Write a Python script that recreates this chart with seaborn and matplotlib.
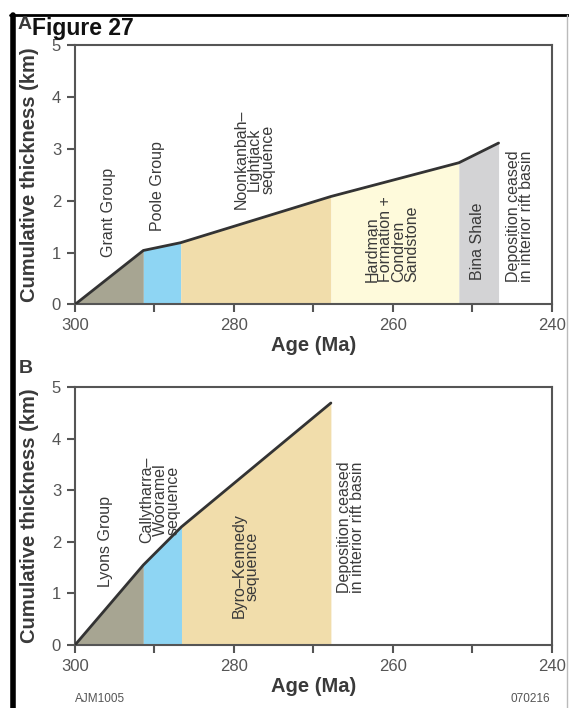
import matplotlib.pyplot as plt
import matplotlib.lines as mlines
import pandas as pd
import seaborn as sns

# panel A - Canning basin
ages_a = [300, 291.4, 286.7, 267.8, 251.7, 246.7]
thick_a = [0, 1.04, 1.19, 2.08, 2.73, 3.11]
colors_a = ['#a7a592', '#8ed5f3', '#f1ddab', '#fefadb', '#d3d3d5']

# panel B - Carnarvon basin
ages_b = [300, 291.4, 286.6, 267.8]
thick_b = [0, 1.55, 2.29, 4.69]
colors_b = ['#a7a592', '#8ed5f3', '#f1ddab']

labels_a = ['Grant Group', 'Poole Group', 'Noonkanbah\u2013\nLightjack\nsequence',
            'Hardman\nFormation +\nCondren\nSandstone', 'Bina Shale',
            'Deposition ceased\nin interior rift basin']
labels_b = ['Lyons Group', 'Callytharra\u2013\nWooramel\nsequence',
            'Byro\u2013Kennedy\nsequence', 'Deposition ceased\nin interior rift basin']

sns.set_style('white')
plt.rcParams['font.family'] = ['Liberation Sans', 'DejaVu Sans']

fig = plt.figure(figsize=(5.69, 7.08), dpi=100)
ax_a = fig.add_axes([0.1318, 0.570, 0.838, 0.3665])
ax_b = fig.add_axes([0.1318, 0.089, 0.838, 0.3644])

txt = '#3a3a3a'


def draw_panel(ax, ages, thick, colors):
    for i, c in enumerate(colors):
        ax.fill_between(ages[i:i + 2], 0, thick[i:i + 2], color=c, lw=0, zorder=1)
    df = pd.DataFrame({'age': ages, 'thick': thick})
    sns.lineplot(data=df, x='age', y='thick', ax=ax, color='#333333', lw=2,
                 sort=False, zorder=3)
    ax.set_xlim(300, 240)
    ax.set_ylim(0, 5)
    ax.set_xticks(range(300, 239, -10))
    ax.set_xticklabels(['300', '', '280', '', '260', '', '240'])
    ax.set_yticks(range(0, 6))
    ax.tick_params(direction='out', length=6, width=1.5, color='#555555',
                   labelsize=12, labelcolor='#555555', pad=4,
                   bottom=True, left=True)
    for s in ax.spines.values():
        s.set_color('#555555')
        s.set_linewidth(1.5)
    ax.set_xlabel('Age (Ma)', fontsize=14.5, fontweight='bold', color=txt, labelpad=2)
    ax.set_ylabel('Cumulative thickness (km)', fontsize=14.5, fontweight='bold',
                  color=txt, labelpad=9)


draw_panel(ax_a, ages_a, thick_a, colors_a)
draw_panel(ax_b, ages_b, thick_b, colors_b)

kw = dict(rotation=90, fontsize=11.5, color=txt, linespacing=0.85, zorder=4)
ax_a.text(295.8, 1.78, labels_a[0], ha='center', va='center', **kw)
ax_a.text(289.6, 2.28, labels_a[1], ha='center', va='center', **kw)
ax_a.text(277.4, 2.79, labels_a[2], ha='center', va='center', multialignment='center', **kw)
ax_a.text(260.1, 0.44, labels_a[3], ha='center', va='bottom', multialignment='left', **kw)
ax_a.text(249.3, 0.48, labels_a[4], ha='center', va='bottom', **kw)
ax_a.text(244.0, 0.44, labels_a[5], ha='center', va='bottom', multialignment='left', **kw)

ax_b.text(296.1, 2.0, labels_b[0], ha='center', va='center', **kw)
ax_b.text(289.3, 2.81, labels_b[1], ha='center', va='center', multialignment='center', **kw)
ax_b.text(278.5, 1.53, labels_b[2], ha='center', va='center', multialignment='center', **kw)
ax_b.text(265.3, 1.0, labels_b[3], ha='center', va='bottom', multialignment='left', **kw)

# panel letters, title, footnotes
fig.text(0.030, 0.965, 'A', fontsize=14, fontweight='bold', color=txt, va='center')
fig.text(0.057, 0.960, 'Figure 27', fontsize=16.5, fontweight='bold', color='#111111',
         va='center', zorder=5)
fig.text(0.033, 0.480, 'B', fontsize=14, fontweight='bold', color=txt, va='center')
fig.text(0.132, 0.004, 'AJM1005', fontsize=8.5, color='#555555', va='bottom')
fig.text(0.967, 0.004, '070216', fontsize=8.5, color='#555555', va='bottom', ha='right')

# page frame
fig.add_artist(mlines.Line2D([0.017, 1.0], [0.979, 0.979], color='black', lw=2))
fig.add_artist(mlines.Line2D([0.022, 0.022], [0.0, 0.979], color='black', lw=4))
fig.add_artist(mlines.Line2D([0.9965, 0.9965], [0.0, 0.979], color='#bbbbbb', lw=1))

fig.savefig('out.png', dpi=100)
